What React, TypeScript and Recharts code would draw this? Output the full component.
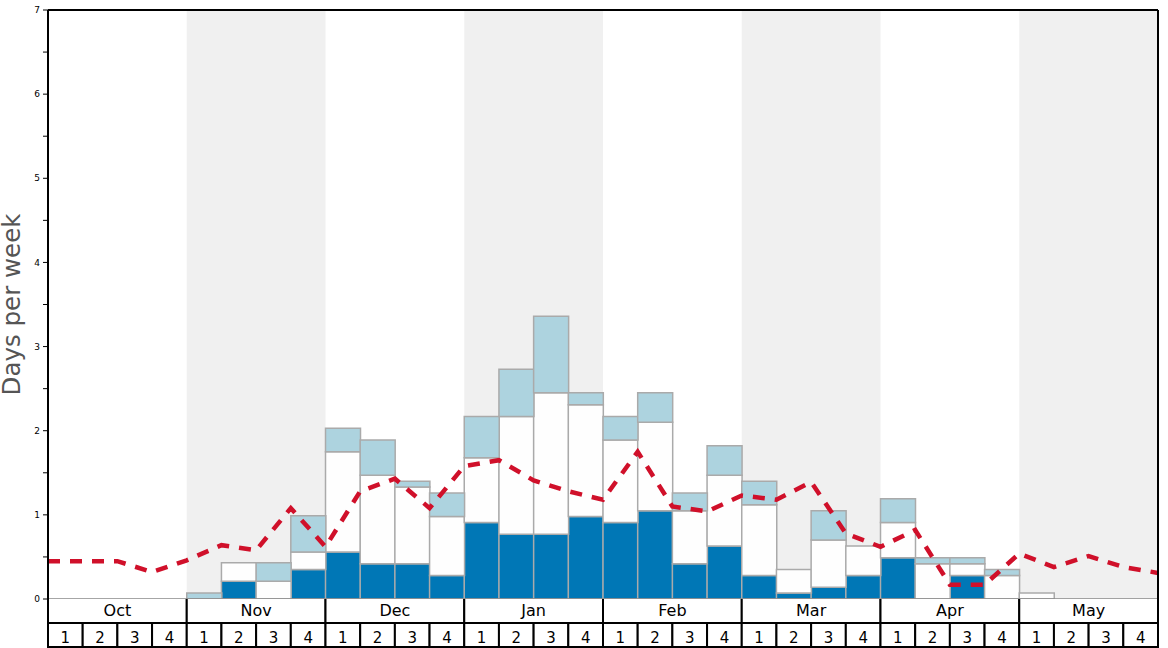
import React from 'react'
import { ComposedChart, Bar, Line, XAxis, YAxis, ReferenceArea, ReferenceLine } from 'recharts'

const MONTHS = ['Oct', 'Nov', 'Dec', 'Jan', 'Feb', 'Mar', 'Apr', 'May']
const WEEKS = [1, 2, 3, 4]

// cumulative tops of each stack layer
const DARK_TOP = [0, 0, 0, 0, 0, 0.21, 0, 0.35, 0.56, 0.42, 0.42, 0.28, 0.91, 0.77, 0.77, 0.98, 0.91, 1.05, 0.42, 0.63, 0.28, 0.07, 0.14, 0.28, 0.49, 0, 0.28, 0, 0, 0, 0, 0]
const WHITE_TOP = [0, 0, 0, 0, 0, 0.43, 0.21, 0.56, 1.75, 1.47, 1.33, 0.98, 1.68, 2.17, 2.45, 2.31, 1.89, 2.1, 1.05, 1.47, 1.12, 0.35, 0.7, 0.63, 0.91, 0.42, 0.42, 0.28, 0.07, 0, 0, 0]
const LIGHT_TOP = [0, 0, 0, 0, 0.07, 0.43, 0.43, 0.99, 2.03, 1.89, 1.4, 1.26, 2.17, 2.73, 3.36, 2.45, 2.17, 2.45, 1.26, 1.82, 1.4, 0.35, 1.05, 0.63, 1.19, 0.49, 0.49, 0.35, 0.07, 0, 0, 0]

// dashed line, values at week boundaries (33 points)
const LINE_VALUES = [0.45, 0.45, 0.45, 0.32, 0.46, 0.64, 0.58, 1.08, 0.62, 1.28, 1.43, 1.08, 1.58, 1.65, 1.41, 1.28, 1.18, 1.75, 1.1, 1.04, 1.23, 1.18, 1.39, 0.78, 0.62, 0.82, 0.17, 0.17, 0.54, 0.38, 0.51, 0.38, 0.31]

const Y_TICKS = [0, 0.5, 1, 1.5, 2, 2.5, 3, 3.5, 4, 4.5, 5, 5.5, 6, 6.5, 7]
const SHADED_MONTHS = [1, 3, 5, 7]

const data = DARK_TOP.map((d, i) => ({
  key: MONTHS[Math.floor(i / 4)] + '-' + WEEKS[i % 4],
  dark: d,
  white: +(WHITE_TOP[i] - d).toFixed(2),
  light: +(LIGHT_TOP[i] - WHITE_TOP[i]).toFixed(2),
}))

const lineData = LINE_VALUES.map((v, i) => ({ x: i, v }))

const W = 1168
const H = 648
const M = { top: 10, right: 10, left: 0, bottom: 1 }
const Y_W = 48
const STEP = (W - M.left - M.right - Y_W) / data.length
const FONT = 'DejaVu Sans'

function WeekTick(props: any) {
  const { x, y, payload } = props
  const i = payload.index
  const left = x - STEP / 2
  return (
    <g fontFamily={FONT}>
      {i % 4 === 0 && (
        <g>
          <rect x={left} y={y} width={STEP * 4} height={24} fill="#fff" />
          <line x1={left} x2={left} y1={y} y2={y + 24} stroke="#000" strokeWidth={2} />
          <line x1={left + STEP * 4} x2={left + STEP * 4} y1={y} y2={y + 24} stroke="#000" strokeWidth={2} />
          <line x1={left} x2={left + STEP * 4} y1={y + 24} y2={y + 24} stroke="#000" strokeWidth={2} />
          <text x={left + STEP * 2} y={y + 17} textAnchor="middle" fontSize={16} fill="#000">
            {MONTHS[i / 4]}
          </text>
        </g>
      )}
      <rect x={left} y={y + 24} width={STEP} height={24} fill="#fff" stroke="#000" strokeWidth={2} />
      <text x={x} y={y + 44} textAnchor="middle" fontSize={15} fill="#000">
        {WEEKS[i % 4]}
      </text>
    </g>
  )
}

export default function App() {
  return (
    <div style={{ position: 'absolute', left: 0, top: 0, background: '#fff' }}>
      <ComposedChart width={W} height={H} data={data} margin={M} barCategoryGap={0} barGap={0}>
        <XAxis
          dataKey="key"
          height={48}
          interval={0}
          tickLine={false}
          axisLine={false}
          tickSize={0}
          tickMargin={0}
          tick={<WeekTick />}
        />
        <XAxis xAxisId="num" type="number" dataKey="x" domain={[0, 32]} allowDataOverflow hide />
        <YAxis
          width={Y_W}
          domain={[0, 7]}
          ticks={Y_TICKS}
          interval={0}
          axisLine={false}
          tickSize={5}
          tickMargin={3}
          tickLine={{ stroke: '#000' }}
          tick={{ fontSize: 9, fill: '#000', fontFamily: FONT }}
          tickFormatter={(v: number) => (Number.isInteger(v) ? String(v) : '')}
          label={{
            content: ({ viewBox }: any) => (
              <text
                x={19.5}
                y={viewBox.y + viewBox.height / 2}
                transform={`rotate(-90 19.5 ${viewBox.y + viewBox.height / 2})`}
                textAnchor="middle"
                fontSize={24.5}
                fill="#555"
                fontFamily={FONT}
              >
                Days per week
              </text>
            ),
          }}
        />
        {SHADED_MONTHS.map((m) => (
          <ReferenceArea
            key={m}
            xAxisId="num"
            x1={m * 4}
            x2={m * 4 + 4}
            y1={0}
            y2={7}
            fill="#f0f0f0"
            fillOpacity={1}
            stroke="none"
          />
        ))}
        <Bar dataKey="dark" stackId="a" fill="#0077b6" stroke="#aaa" strokeWidth={1.5} isAnimationActive={false} />
        <Bar dataKey="white" stackId="a" fill="#fefefe" stroke="#aaa" strokeWidth={1.5} isAnimationActive={false} />
        <Bar dataKey="light" stackId="a" fill="#add3df" stroke="#aaa" strokeWidth={1.5} isAnimationActive={false} />
        <Line
          data={lineData}
          xAxisId="num"
          dataKey="v"
          type="linear"
          stroke="#d0102a"
          strokeWidth={4.5}
          strokeDasharray="12 10"
          dot={false}
          activeDot={false}
          isAnimationActive={false}
        />
        <ReferenceLine xAxisId="num" y={0} stroke="#888" strokeWidth={1.5} />
        <ReferenceLine xAxisId="num" y={7} stroke="#000" strokeWidth={2} />
        <ReferenceLine xAxisId="num" x={0} stroke="#000" strokeWidth={2} />
        <ReferenceLine xAxisId="num" x={32} stroke="#000" strokeWidth={2} />
      </ComposedChart>
    </div>
  )
}
